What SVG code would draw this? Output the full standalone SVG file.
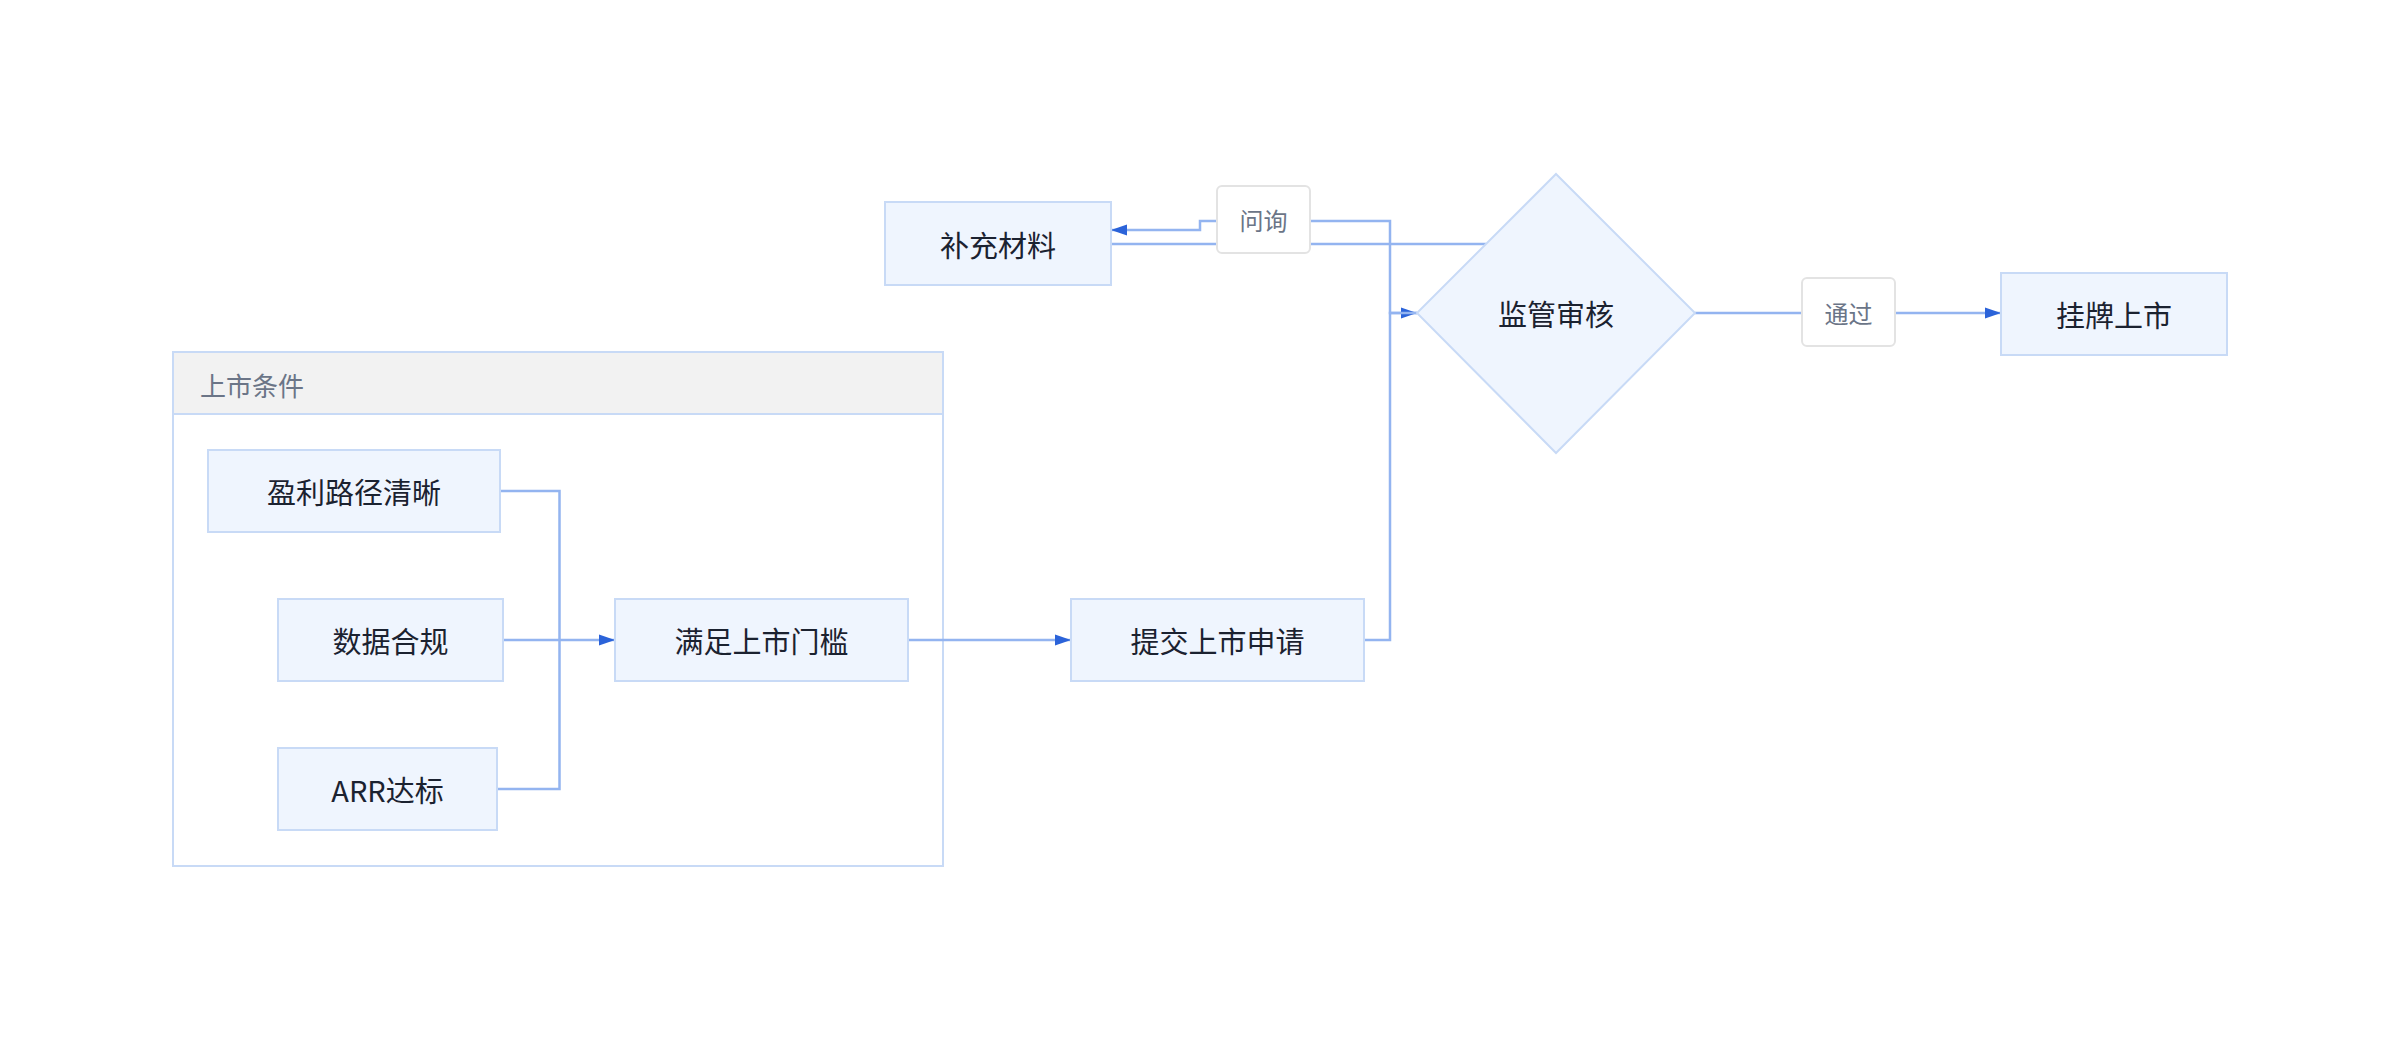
<svg xmlns="http://www.w3.org/2000/svg" width="2400" height="1040" viewBox="0 0 2400 1040">
<style>
.node{fill:#eff5fe;stroke:#c8daf6;stroke-width:2}
.lbl{fill:#ffffff;stroke:#e3e3e3;stroke-width:2}
.edge{fill:none;stroke:#93b4f0;stroke-width:2.5}
.t{font-family:"Noto Sans CJK SC","Noto Sans",sans-serif;font-size:29px;fill:#1b2230;text-anchor:middle;dominant-baseline:central}
.lt{font-family:"Noto Sans CJK SC","Noto Sans",sans-serif;font-size:24px;fill:#6b7587;text-anchor:middle;dominant-baseline:central}
.ct{font-family:"Noto Sans CJK SC","Noto Sans",sans-serif;font-size:26px;fill:#6b7587;dominant-baseline:central}
</style>
<defs>
<marker id="arr" markerUnits="userSpaceOnUse" markerWidth="16" markerHeight="12" refX="16" refY="6" orient="auto">
<path d="M0,0.5 L16,6 L0,11.5 z" fill="#2b63d9"/>
</marker>
</defs>
<rect width="2400" height="1040" fill="#ffffff"/>
<g id="cluster-listing">
<rect x="173" y="352" width="770" height="514" fill="#ffffff" stroke="#c8daf6" stroke-width="2"/>
<rect x="174" y="353" width="768" height="61" fill="#f2f2f2"/>
<line x1="173" y1="414" x2="943" y2="414" stroke="#c8daf6" stroke-width="2"/>
<text class="ct" x="200" y="384">上市条件</text>
</g>
<g id="connectors">
<path class="edge" d="M500,491 H559.5 V640"/>
<path class="edge" d="M503,640 H615" marker-end="url(#arr)"/>
<path class="edge" d="M497,789 H559.5 V640"/>
<path class="edge" d="M908,640 H1071" marker-end="url(#arr)"/>
<path class="edge" d="M1364,640 H1390 V313 H1417" marker-end="url(#arr)"/>
<path class="edge" d="M1417,313 H1390 V221 H1200 V230 H1111" marker-end="url(#arr)"/>
<path class="edge" d="M1111,244 H1486"/>
<path class="edge" d="M1695,313 H2001" marker-end="url(#arr)"/>
</g>
<g id="n-profit"><rect class="node" x="208" y="450" width="292" height="82"/><text class="t" x="354" y="491">盈利路径清晰</text></g>
<g id="n-data"><rect class="node" x="278" y="599" width="225" height="82"/><text class="t" x="390.5" y="640">数据合规</text></g>
<g id="n-arr"><rect class="node" x="278" y="748" width="219" height="82"/><text class="t" x="387.5" y="789">ARR达标</text></g>
<g id="n-threshold"><rect class="node" x="615" y="599" width="293" height="82"/><text class="t" x="761.5" y="640">满足上市门槛</text></g>
<g id="n-submit"><rect class="node" x="1071" y="599" width="293" height="82"/><text class="t" x="1217.5" y="640">提交上市申请</text></g>
<g id="n-review"><polygon class="node" points="1556,174 1695,313 1556,453 1417,313"/><text class="t" x="1556" y="313">监管审核</text></g>
<g id="n-supplement"><rect class="node" x="885" y="202" width="226" height="83"/><text class="t" x="998" y="243.5">补充材料</text></g>
<g id="n-list"><rect class="node" x="2001" y="273" width="226" height="82"/><text class="t" x="2114" y="314">挂牌上市</text></g>
<g id="label-inquiry"><rect class="lbl" x="1217" y="186" width="93" height="67" rx="5"/><text class="lt" x="1263.5" y="219.5">问询</text></g>
<g id="label-pass"><rect class="lbl" x="1802" y="278" width="93" height="68" rx="5"/><text class="lt" x="1848.5" y="312">通过</text></g>
</svg>
